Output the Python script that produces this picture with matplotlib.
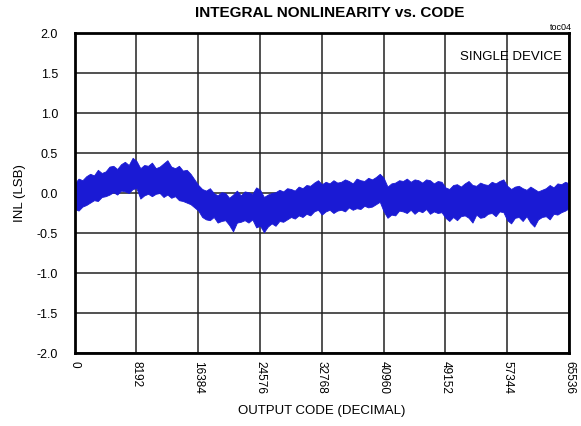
import matplotlib
matplotlib.use("Agg")
import matplotlib.pyplot as plt

# ---- data ----
codes = [k * 512 for k in range(129)]
inl_upper = [
    0.12, 0.18, 0.16, 0.21, 0.24, 0.22, 0.29, 0.25, 0.27, 0.33, 0.34, 0.30, 0.36, 0.39, 0.35, 0.44,
    0.40, 0.31, 0.35, 0.34, 0.38, 0.31, 0.33, 0.37, 0.41, 0.33, 0.31, 0.34, 0.28, 0.29, 0.24, 0.17,
    0.10, 0.05, 0.03, 0.06, 0.00, -0.03, 0.01, 0.00, -0.06, -0.02, 0.03, -0.03, 0.02, 0.01, -0.01, 0.07,
    0.04, -0.05, -0.02, 0.00, 0.01, 0.04, 0.02, 0.06, 0.05, 0.03, 0.08, 0.06, 0.10, 0.09, 0.13, 0.16,
    0.11, 0.14, 0.12, 0.16, 0.13, 0.14, 0.17, 0.15, 0.12, 0.18, 0.16, 0.15, 0.19, 0.17, 0.20, 0.24,
    0.19, 0.08, 0.12, 0.13, 0.16, 0.15, 0.18, 0.14, 0.17, 0.16, 0.13, 0.17, 0.16, 0.12, 0.15, 0.14,
    0.07, 0.05, 0.10, 0.11, 0.08, 0.12, 0.15, 0.10, 0.09, 0.13, 0.11, 0.10, 0.14, 0.12, 0.15, 0.17,
    0.09, 0.05, 0.08, 0.09, 0.06, 0.04, 0.08, 0.05, 0.02, 0.04, 0.06, 0.10, 0.07, 0.12, 0.11, 0.14,
    0.12,
]
inl_lower = [
    -0.20, -0.22, -0.17, -0.15, -0.12, -0.09, -0.10, -0.05, -0.04, -0.02, 0.01, -0.02, 0.03, 0.02, 0.00, 0.05,
    0.06, -0.07, -0.03, -0.01, -0.04, -0.01, 0.00, -0.05, -0.02, -0.06, -0.04, -0.09, -0.10, -0.12, -0.14, -0.18,
    -0.22, -0.30, -0.33, -0.34, -0.30, -0.37, -0.35, -0.34, -0.40, -0.48, -0.37, -0.36, -0.34, -0.37, -0.33, -0.43,
    -0.41, -0.49, -0.42, -0.38, -0.41, -0.35, -0.36, -0.33, -0.30, -0.32, -0.28, -0.30, -0.26, -0.28, -0.23, -0.21,
    -0.27, -0.23, -0.21, -0.25, -0.22, -0.21, -0.23, -0.18, -0.21, -0.19, -0.20, -0.16, -0.18, -0.17, -0.14, -0.11,
    -0.23, -0.31, -0.27, -0.28, -0.22, -0.23, -0.25, -0.21, -0.26, -0.22, -0.24, -0.20, -0.26, -0.23, -0.25, -0.24,
    -0.31, -0.35, -0.30, -0.34, -0.29, -0.28, -0.31, -0.37, -0.27, -0.31, -0.30, -0.26, -0.25, -0.29, -0.23, -0.24,
    -0.34, -0.38, -0.31, -0.30, -0.35, -0.29, -0.37, -0.42, -0.33, -0.30, -0.29, -0.33, -0.26, -0.27, -0.24, -0.22,
    -0.19,
]
x_ticks = [0, 8192, 16384, 24576, 32768, 40960, 49152, 57344, 65536]
x_tick_labels = ["0", "8192", "16384", "24576", "32768", "40960", "49152", "57344", "65536"]
y_ticks = [-2.0, -1.5, -1.0, -0.5, 0.0, 0.5, 1.0, 1.5, 2.0]
y_tick_labels = ["-2.0", "-1.5", "-1.0", "-0.5", "0.0", "0.5", "1.0", "1.5", "2.0"]

plt.rcParams["font.family"] = ["Liberation Sans", "DejaVu Sans"]

W, H = 581, 426
fig = plt.figure(figsize=(W / 100, H / 100), dpi=100)
L, R, T, B = 74.7, 569, 33, 353
ax = fig.add_axes([L / W, 1 - B / H, (R - L) / W, (B - T) / H])

blue = "#1a1ad4"
ax.fill_between(codes, inl_lower, inl_upper, color=blue, lw=0.6, edgecolor=blue, zorder=3)

ax.set_xlim(0, 65536)
ax.set_ylim(-2.0, 2.0)
ax.set_xticks(x_ticks)
ax.set_xticklabels(x_tick_labels, rotation=270, fontsize=8.5)
ax.set_yticks(y_ticks)
ax.set_yticklabels(y_tick_labels, fontsize=9)
ax.tick_params(axis="both", direction="in", length=0)
ax.tick_params(axis="y", pad=12)
ax.tick_params(axis="x", pad=6)
for lab in ax.get_xticklabels():
    lab.set_verticalalignment("top")
ax.grid(True, color="#222222", lw=1.1, zorder=1)
for s in ax.spines.values():
    s.set_linewidth(2.0)
    s.set_color("black")
    s.set_zorder(5)

fig.text(330 / W, 1 - 13 / H, "INTEGRAL NONLINEARITY vs. CODE", ha="center", va="center",
         fontsize=11, fontweight="bold")
fig.text(572 / W, 1 - 28 / H, "toc04", ha="right", va="center", fontsize=6.5)
ax.text(0.985, 0.925, "SINGLE DEVICE", transform=ax.transAxes, ha="right", va="center",
        fontsize=9.5, zorder=6)
fig.text(322 / W, 1 - 411 / H, "OUTPUT CODE (DECIMAL)", ha="center", va="center", fontsize=9.5)
fig.text(20 / W, 1 - 193 / H, "INL (LSB)", ha="center", va="center", rotation=90, fontsize=9.5)

fig.savefig("out.png", dpi=100)
